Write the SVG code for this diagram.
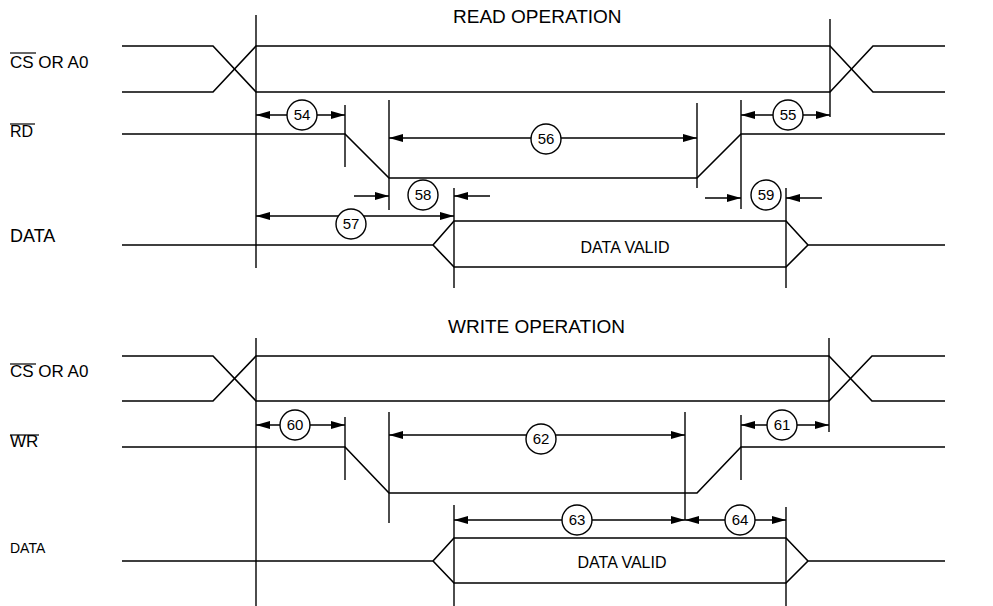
<svg xmlns="http://www.w3.org/2000/svg" width="993" height="606" viewBox="0 0 993 606">
<defs>
<marker id="ah" viewBox="0 0 14 8" refX="14" refY="4" markerWidth="14" markerHeight="8" markerUnits="userSpaceOnUse" orient="auto-start-reverse">
<path d="M0,0 L14,4 L0,8 z" fill="#000"/>
</marker>
</defs>
<style>
.s{fill:none;stroke:#000;stroke-width:1.6}
.t{stroke:#000;stroke-width:1.4;fill:none}
.d{stroke:#000;stroke-width:1.4;fill:none;marker-start:url(#ah);marker-end:url(#ah)}
.e{stroke:#000;stroke-width:1.4;fill:none;marker-end:url(#ah)}
.c{fill:#fff;stroke:#000;stroke-width:1.4}
.n{font-family:"Liberation Sans",Arial,sans-serif;font-size:15px;text-anchor:middle;fill:#000}
.l{font-family:"Liberation Sans",Arial,sans-serif;fill:#000}
.ov{stroke:#000;stroke-width:1.2}
</style>
<rect width="993" height="606" fill="#fff"/>

<g id="labels">
<text class="l" x="453" y="23" font-size="19">READ OPERATION</text>
<text class="l" x="10" y="68" font-size="17">CS OR A0</text>
<line class="ov" x1="10" y1="53" x2="36" y2="53"/>
<text class="l" x="10" y="137" font-size="16">RD</text>
<line class="ov" x1="10" y1="124" x2="35" y2="124"/>
<text class="l" x="10" y="242" font-size="18">DATA</text>
<text class="l" x="625" y="253" font-size="16" text-anchor="middle">DATA VALID</text>

<text class="l" x="448" y="333" font-size="19">WRITE OPERATION</text>
<text class="l" x="10" y="377" font-size="17">CS OR A0</text>
<line class="ov" x1="10" y1="364" x2="36" y2="364"/>
<text class="l" x="10" y="447" font-size="17">WR</text>
<line class="ov" x1="10" y1="435" x2="39" y2="435"/>
<text class="l" x="10" y="553" font-size="14">DATA</text>
<text class="l" x="622" y="568" font-size="16" text-anchor="middle">DATA VALID</text>
</g>

<g id="read-waveforms">
<path class="s" d="M122,46 H213 L256,92 H830 L873,46 H945"/>
<path class="s" d="M122,92 H213 L256,46 H830 L873,92 H945"/>
<path class="s" d="M122,134 H345 L389,178 H697 L741,134 H945"/>
<path class="s" d="M122,245 H433 L454,221 H786 L808,245 H945"/>
<path class="s" d="M433,245 L454,267 H786 L808,245"/>
</g>

<g id="read-markers">
<line class="t" x1="256" y1="15" x2="256" y2="268"/>
<line class="t" x1="830" y1="19" x2="830" y2="117"/>
<line class="t" x1="345" y1="105" x2="345" y2="167"/>
<line class="t" x1="389" y1="100" x2="389" y2="210"/>
<line class="t" x1="697" y1="103" x2="697" y2="188"/>
<line class="t" x1="741" y1="100" x2="741" y2="209"/>
<line class="t" x1="454" y1="188" x2="454" y2="288"/>
<line class="t" x1="786" y1="188" x2="786" y2="288"/>
</g>

<g id="read-timings">
<line class="d" x1="256" y1="115" x2="345" y2="115"/>
<line class="d" x1="741" y1="115" x2="830" y2="115"/>
<line class="d" x1="389" y1="138" x2="697" y2="138"/>
<line class="e" x1="354" y1="196" x2="389" y2="196"/>
<line class="e" x1="490" y1="196" x2="454" y2="196"/>
<line class="d" x1="256" y1="216" x2="454" y2="216"/>
<line class="e" x1="705" y1="198" x2="741" y2="198"/>
<line class="e" x1="822" y1="198" x2="786" y2="198"/>
</g>

<g id="t54"><circle class="c" cx="302" cy="115" r="15"/><text class="n" x="302" y="120">54</text></g>
<g id="t55"><circle class="c" cx="788" cy="115" r="15"/><text class="n" x="788" y="120">55</text></g>
<g id="t56"><circle class="c" cx="546" cy="139" r="15"/><text class="n" x="546" y="144">56</text></g>
<g id="t57"><circle class="c" cx="351" cy="224" r="15"/><text class="n" x="351" y="229">57</text></g>
<g id="t58"><circle class="c" cx="423" cy="195" r="15"/><text class="n" x="423" y="200">58</text></g>
<g id="t59"><circle class="c" cx="766" cy="195" r="15"/><text class="n" x="766" y="200">59</text></g>

<g id="write-waveforms">
<path class="s" d="M122,356 H213 L256,401 H829 L872,356 H945"/>
<path class="s" d="M122,401 H213 L256,356 H829 L872,401 H945"/>
<path class="s" d="M122,447 H345 L389,493 H697 L741,447 H945"/>
<path class="s" d="M122,561 H433 L454,538 H786 L808,561 H945"/>
<path class="s" d="M433,561 L454,583 H786 L808,561"/>
</g>

<g id="write-markers">
<line class="t" x1="256" y1="338" x2="256" y2="606"/>
<line class="t" x1="829" y1="338" x2="829" y2="432"/>
<line class="t" x1="345" y1="417" x2="345" y2="480"/>
<line class="t" x1="389" y1="412" x2="389" y2="523"/>
<line class="t" x1="685" y1="412" x2="685" y2="520"/>
<line class="t" x1="741" y1="415" x2="741" y2="480"/>
<line class="t" x1="454" y1="505" x2="454" y2="606"/>
<line class="t" x1="786" y1="507" x2="786" y2="606"/>
</g>

<g id="write-timings">
<line class="d" x1="256" y1="425" x2="345" y2="425"/>
<line class="d" x1="741" y1="425" x2="829" y2="425"/>
<line class="d" x1="389" y1="435" x2="685" y2="435"/>
<line class="d" x1="454" y1="520" x2="685" y2="520"/>
<line class="d" x1="685" y1="520" x2="786" y2="520"/>
</g>

<g id="t60"><circle class="c" cx="295" cy="425" r="15"/><text class="n" x="295" y="430">60</text></g>
<g id="t61"><circle class="c" cx="782" cy="425" r="15"/><text class="n" x="782" y="430">61</text></g>
<g id="t62"><circle class="c" cx="541" cy="439" r="15"/><text class="n" x="541" y="444">62</text></g>
<g id="t63"><circle class="c" cx="577" cy="520" r="15"/><text class="n" x="577" y="525">63</text></g>
<g id="t64"><circle class="c" cx="740" cy="520" r="15"/><text class="n" x="740" y="525">64</text></g>
</svg>
